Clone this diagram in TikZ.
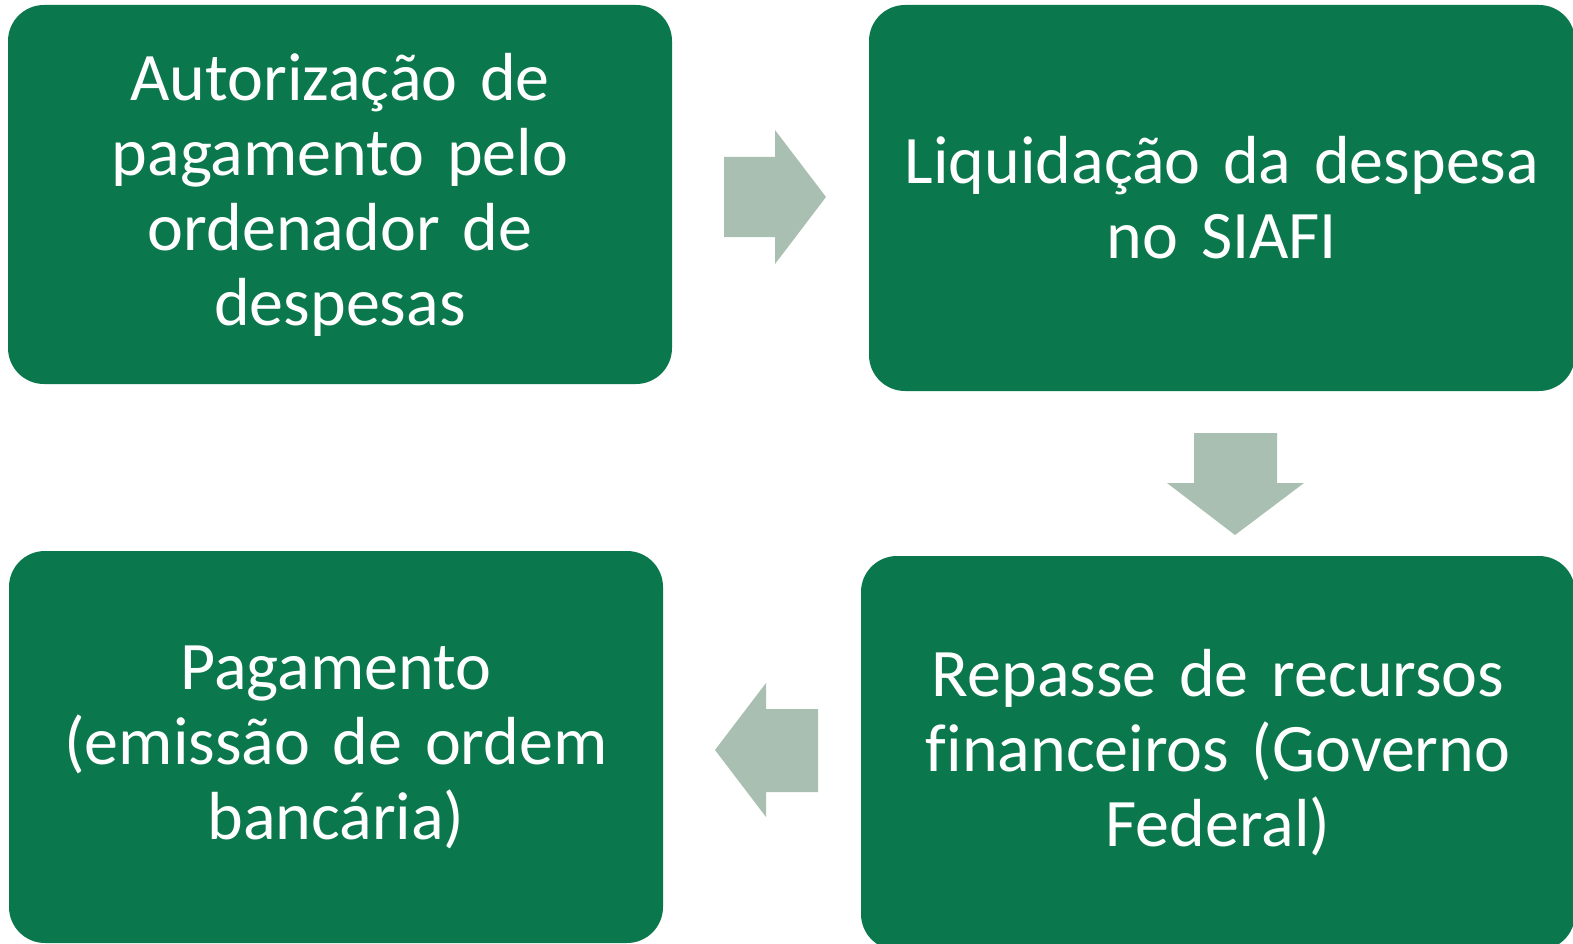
\documentclass[tikz,border=0pt]{standalone}
\usepackage{fontspec}
\setmainfont[WordSpace=0.75,Ligatures={NoCommon}]{Carlito}
\definecolor{boxgreen}{RGB}{10,120,76}
\definecolor{arrowgray}{RGB}{169,191,177}
\tikzset{
  stepbox/.style={fill=boxgreen, rounded corners=36pt, inner sep=0pt, align=center,
    text=white, font=\fontsize{68}{75}\selectfont},
  flowarrow/.style={fill=arrowgray, draw=none}
}
\begin{document}
\begin{tikzpicture}[x=1pt,y=-1pt]
\useasboundingbox (0,0) rectangle (1573,944);
\begin{scope}
\clip (0,0) rectangle (1573,944);
\node[stepbox, minimum width=664pt, minimum height=379pt, text width=650pt] (b1) at (340,194.5)
  {Autorização de\\pagamento pelo\\ordenador de\\despesas};
\node[stepbox, minimum width=706pt, minimum height=386pt, text width=700pt] (b2) at (1222,198)
  {Liquidação da despesa\\no SIAFI};
\node[stepbox, minimum width=714pt, minimum height=394pt, text width=700pt] (b3) at (1218,753)
  {Repasse de recursos\\financeiros (Governo\\Federal)};
\node[stepbox, minimum width=654pt, minimum height=392pt, text width=640pt] (b4) at (336,747)
  {Pagamento\\(emissão de ordem\\bancária)};
\end{scope}
% right arrow
\fill[flowarrow] (724,157) -- (775,157) -- (775,130) -- (826,197) -- (775,264) -- (775,237) -- (724,237) -- cycle;
% down arrow
\fill[flowarrow] (1194,433) -- (1277,433) -- (1277,483) -- (1304,483) -- (1235,535) -- (1167,483) -- (1194,483) -- cycle;
% left arrow
\fill[flowarrow] (818,709) -- (766,709) -- (766,683) -- (715,750) -- (766,817) -- (766,792) -- (818,792) -- cycle;
\end{tikzpicture}
\end{document}
